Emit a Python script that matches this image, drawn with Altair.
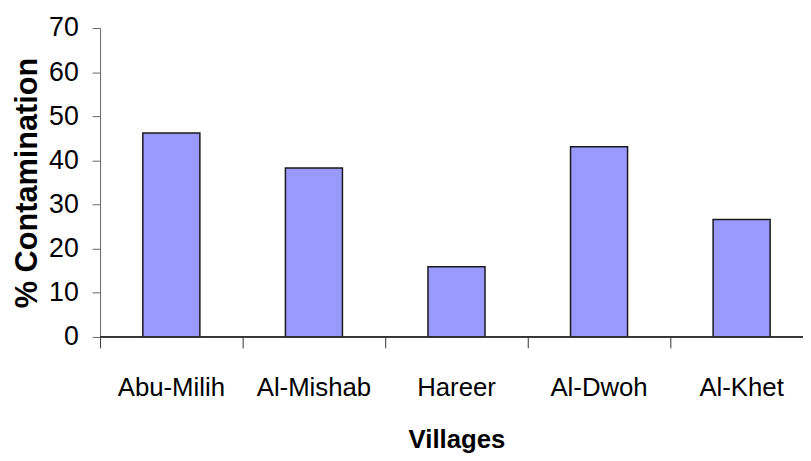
import altair as alt
import pandas as pd

villages = ["Abu-Milih", "Al-Mishab", "Hareer", "Al-Dwoh", "Al-Khet"]
contamination = [46.2, 38.3, 15.9, 43.1, 26.6]
y_ticks = [0, 10, 20, 30, 40, 50, 60, 70]

df = pd.DataFrame({"Village": villages, "Contamination": contamination})

FONT = "Liberation Sans, Arial, sans-serif"
W = 710  # visible plot width (the reference plot runs off the right edge)
H = 312

bars = (
    alt.Chart(df)
    .mark_bar(
        color="#9999FF",
        stroke="#1a1a1a",
        strokeWidth=1.5,
        width=alt.RelativeBandSize(0.4),
    )
    .encode(
        x=alt.X(
            "Village:N",
            sort=villages,
            title="Villages",
            scale=alt.Scale(paddingInner=0, paddingOuter=0, range=[0, 720]),
            axis=alt.Axis(
                labelAngle=0,
                bandPosition=0,
                domain=False,
                labelFont=FONT,
                labelFontSize=26,
                labelColor="black",
                labelPadding=27,
                tickSize=11,
                tickColor="#333333",
                titleFont=FONT,
                titleFontSize=26,
                titleFontWeight="bold",
                titleColor="black",
                titlePadding=27,
            ),
        ),
        y=alt.Y(
            "Contamination:Q",
            title="% Contamination",
            scale=alt.Scale(domain=[0, 70], nice=False),
            axis=alt.Axis(
                values=y_ticks,
                grid=False,
                labelFont=FONT,
                labelFontSize=27,
                labelColor="black",
                labelPadding=14,
                tickSize=8,
                tickColor="#666666",
                domainColor="#666666",
                titleFont=FONT,
                titleFontSize=31,
                titleFontWeight="bold",
                titleColor="black",
                titlePadding=5,
            ),
        ),
    )
)

xline = alt.Chart(df).mark_rule(color="#333333", strokeWidth=1).encode(
    x=alt.value(0), x2=alt.value(720), y=alt.value(H)
)

chart = (
    alt.layer(bars, xline)
    .properties(
        width=W,
        height=H,
        autosize=alt.AutoSizeParams(type="none"),
        padding={"left": 93, "top": 18, "right": 0, "bottom": 115},
        background="white",
    )
    .configure_view(stroke=None)
)

chart.save("out.html", embed_options={"renderer": "svg", "actions": False})
